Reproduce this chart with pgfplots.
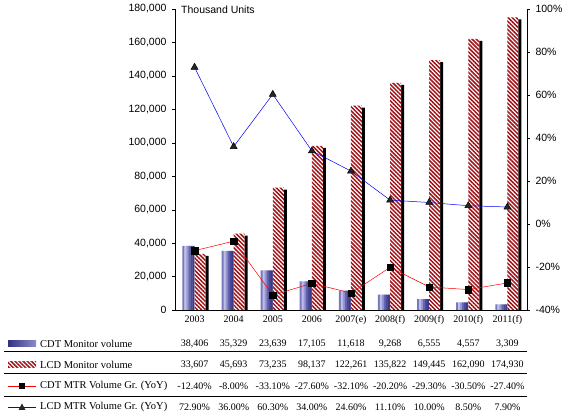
\documentclass[border=0pt]{standalone}
\usepackage{fontspec}
\setmainfont{Liberation Serif}
\newfontfamily\sansf{Liberation Sans}
\usepackage{pgfplots}
\pgfplotsset{compat=1.18}
\usepackage{pgfplotstable}
\usetikzlibrary{patterns.meta}

\definecolor{lcdred}{RGB}{160,18,24}
\definecolor{cA}{RGB}{120,120,190}
\definecolor{cB}{RGB}{190,190,232}
\definecolor{cC}{RGB}{150,150,210}
\definecolor{cD}{RGB}{100,100,175}
\definecolor{cE}{RGB}{72,72,150}
\definecolor{cF}{RGB}{58,58,135}
\definecolor{cdtdark}{RGB}{50,50,130}
\definecolor{cdtmid}{RGB}{115,115,185}
\definecolor{cdtlight}{RGB}{200,200,238}

\pgfplotstableread{
x cdt lcd cdtg lcdg
0 38406 33607 -12.4 72.9
1 35329 45693 -8.0 36.0
2 23639 73235 -33.1 60.3
3 17105 98137 -27.6 34.0
4 11618 122261 -32.1 24.6
5 9268 135822 -20.2 11.1
6 6555 149445 -29.3 10.0
7 4557 162090 -30.5 8.5
8 3309 174930 -27.4 7.9
}\data

\begin{document}
\begin{tikzpicture}[x=1pt,y=1pt]
\useasboundingbox (0,0) rectangle (562,420);
\begin{axis}[
  at={(175pt,110pt)}, anchor=south west, scale only axis,
  width=352pt, height=301pt,
  xmin=-0.5, xmax=8.5, ymin=0, ymax=180000,
  axis x line*=bottom, axis y line*=left,
  axis line style={black, line width=0.8pt},
  xtick={0,...,8},
  xticklabels={2003,2004,2005,2006,2007(e),2008(f),2009(f),2010(f),2011(f)},
  x tick style={draw=none},
  xticklabel style={font=\fontsize{10}{11}\selectfont, yshift=1pt},
  ytick={0,20000,...,180000},
  scaled y ticks=false,
  tick align=outside, major tick length=3pt,
  y tick style={black},
  yticklabel={\pgfmathprintnumber[fixed,1000 sep={,},assume math mode=true]{\tick}},
  yticklabel style={font=\sansf\fontsize{10.5}{11}\selectfont, xshift=-2pt},
]
% CDT bars: stepped horizontal gradient
\addplot[ybar, bar width=2.3pt, bar shift=-11pt, draw=none, fill=cA] table[x=x,y=cdt]{\data};
\addplot[ybar, bar width=2.3pt, bar shift=-9pt, draw=none, fill=cB] table[x=x,y=cdt]{\data};
\addplot[ybar, bar width=2.3pt, bar shift=-7pt, draw=none, fill=cC] table[x=x,y=cdt]{\data};
\addplot[ybar, bar width=2.3pt, bar shift=-5pt, draw=none, fill=cD] table[x=x,y=cdt]{\data};
\addplot[ybar, bar width=2.3pt, bar shift=-3pt, draw=none, fill=cE] table[x=x,y=cdt]{\data};
\addplot[ybar, bar width=2.2pt, bar shift=-1pt, draw=none, fill=cF] table[x=x,y=cdt]{\data};
% LCD bars
\addplot[ybar, bar width=11pt, bar shift=5.5pt, draw=none,
  preaction={fill=black, transform canvas={xshift=3pt,yshift=-2pt}},
  preaction={fill=white},
  pattern={Lines[angle=-45,distance=2.9pt,line width=1.5pt]}, pattern color=lcdred] table[x=x,y=lcd]{\data};
\end{axis}
\begin{axis}[
  at={(175pt,110pt)}, anchor=south west, scale only axis,
  width=352pt, height=301pt,
  xmin=-0.5, xmax=8.5, ymin=-40, ymax=100,
  axis x line=none, axis y line*=right,
  axis line style={black, line width=0.8pt},
  ytick={-40,-20,...,100},
  tick align=outside, major tick length=3pt,
  y tick style={black},
  yticklabel={\pgfmathprintnumber[assume math mode=true]{\tick}\%},
  yticklabel style={font=\sansf\fontsize{10.5}{11}\selectfont, xshift=2pt},
]
\addplot[red, line width=0.5pt, mark=square*, mark size=3.2pt, mark options={fill=black, draw=black}] table[x=x,y=cdtg]{\data};
\addplot[blue, line width=0.5pt, mark=triangle*, mark size=4pt, mark options={fill=black!85, draw=black}] table[x=x,y=lcdg]{\data};
\end{axis}

\node[anchor=west, font=\sansf\fontsize{10.5}{12}\selectfont, inner sep=0pt] at (181,410) {Thousand Units};

% table
\foreach \yy in {69,47,24} \draw[black, line width=0.6pt] (4,\yy) -- (527,\yy);
\begin{scope}[font=\fontsize{10.5}{12}\selectfont]
\node[anchor=west, inner sep=0pt] at (40,76) {CDT Monitor volume};
\node[anchor=west, inner sep=0pt] at (40,55) {LCD Monitor volume};
\node[anchor=west, inner sep=0pt] at (40,34) {CDT MTR Volume Gr. (YoY)};
\node[anchor=west, inner sep=0pt] at (40,13) {LCD MTR Volume Gr. (YoY)};
\end{scope}
\begin{scope}[font=\fontsize{10}{12}\selectfont]
\foreach \v [count=\i from 0] in {{38,406},{35,329},{23,639},{17,105},{11,618},{9,268},{6,555},{4,557},{3,309}}
  \node[inner sep=0pt] at ({175+39.111*(\i+0.5)},76) {\v};
\foreach \v [count=\i from 0] in {{33,607},{45,693},{73,235},{98,137},{122,261},{135,822},{149,445},{162,090},{174,930}}
  \node[inner sep=0pt] at ({175+39.111*(\i+0.5)},55) {\v};
\foreach \v [count=\i from 0] in {-12.40\%,-8.00\%,-33.10\%,-27.60\%,-32.10\%,-20.20\%,-29.30\%,-30.50\%,-27.40\%}
  \node[inner sep=0pt] at ({175+39.111*(\i+0.5)},34) {\v};
\foreach \v [count=\i from 0] in {72.90\%,36.00\%,60.30\%,34.00\%,24.60\%,11.10\%,10.00\%,8.50\%,7.90\%}
  \node[inner sep=0pt] at ({175+39.111*(\i+0.5)},13) {\v};
\end{scope}
% legend keys
\shade[left color=cdtdark, right color=cdtmid!70!cdtlight] (8,73) rectangle (36,79);
\path[pattern={Lines[angle=-45,distance=2.9pt,line width=1.5pt]}, pattern color=lcdred] (8,52) rectangle (36,58);
\draw[red, line width=0.6pt] (8,34) -- (36,34);
\fill[black] (19,31) rectangle (25,37);
\draw[blue, line width=0.6pt] (8,13) -- (36,13);
\fill[black!85] (18.5,10) -- (25.5,10) -- (22,16.5) -- cycle;
\end{tikzpicture}
\end{document}
